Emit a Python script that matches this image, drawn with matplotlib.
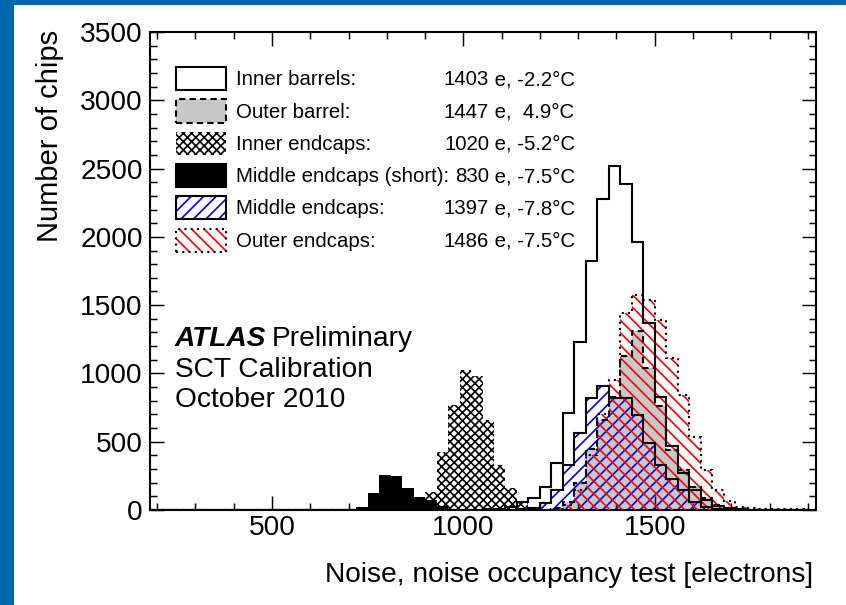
import matplotlib
matplotlib.use("Agg")
import matplotlib.pyplot as plt
from matplotlib.patches import Rectangle
from matplotlib.ticker import MultipleLocator
import numpy as np

plt.rcParams['font.family'] = ['Liberation Sans', 'DejaVu Sans']
plt.rcParams['hatch.linewidth'] = 0.8

# histogram binning: 30 electron bins
x_min, x_max, bin_width = 180, 1920, 30
edges = np.arange(x_min, x_max + 1, bin_width)

# bin contents (number of chips), each list starts at the given noise value
inner_barrels_start = 1050
inner_barrels = [5, 10, 25, 55, 90, 170, 342, 709, 1230, 1820, 2275, 2520,
                 2385, 1960, 1370, 830, 470, 270, 147, 73, 30, 12, 5]
outer_barrel_start = 1230
outer_barrel = [15, 60, 200, 450, 660, 830, 1130, 1308, 1040, 758, 440, 290,
                170, 90, 35, 12, 5]
inner_endcaps_start = 840
inner_endcaps = [5, 20, 134, 427, 769, 1025, 981, 659, 330, 159, 53, 15, 5]
middle_short_start = 630
middle_short = [3, 5, 10, 24, 122, 256, 249, 159, 93, 70, 30, 10]
middle_endcaps_start = 1140
middle_endcaps = [5, 15, 50, 150, 330, 563, 819, 905, 819, 819, 697, 489, 330,
                  227, 147, 62, 20, 8]
outer_endcaps_start = 1230
outer_endcaps = [10, 40, 150, 400, 700, 952, 1443, 1577, 1541, 1394, 1113, 844,
                 538, 293, 147, 66, 22, 15, 10, 8, 5, 5, 3]

legend_names = ['Inner barrels:', 'Outer barrel:', 'Inner endcaps:',
                'Middle endcaps (short):', 'Middle endcaps:', 'Outer endcaps:']
legend_means = ['1403', '1447', '1020', '830', '1397', '1486']
legend_temps = ['-2.2', ' 4.9', '-5.2', '-7.5', '-7.8', '-7.5']

HATCH_BLUE = '////'
HATCH_RED = '\\\\\\\\'
HATCH_CROSS = 'xxxxxx'


def full(start, counts):
    h = np.zeros(len(edges) - 1)
    i = (start - x_min) // bin_width
    h[i:i + len(counts)] = counts
    return h


fig = plt.figure(figsize=(846 / 150, 605 / 150), dpi=150)
ax = fig.add_axes([149.5 / 846, 1 - 510 / 605, 666 / 846, 478 / 605])

# blue frame of the slide
fig.patches.append(Rectangle((0, 0), 13 / 846, 1, transform=fig.transFigure,
                             color='#0066b0', zorder=0))
fig.patches.append(Rectangle((0, 1 - 4 / 605), 1, 4 / 605, transform=fig.transFigure,
                             color='#0066b0', zorder=0))

lw = 1.0
# outer barrel: grey, dashed outline
ob = full(outer_barrel_start, outer_barrel)
ax.stairs(ob, edges, fill=True, facecolor='#c8c8c8', linewidth=0, zorder=1)
ax.stairs(ob, edges, color='black', lw=lw, linestyle=(0, (3, 2)), zorder=5)

# middle endcaps: blue hatch, solid outline
me = full(middle_endcaps_start, middle_endcaps)
ax.stairs(me, edges, fill=True, facecolor='none', edgecolor='blue', hatch=HATCH_BLUE,
          linewidth=0, zorder=2)
ax.stairs(me, edges, color='black', lw=lw, zorder=5)

# outer endcaps: red hatch, dotted outline
oe = full(outer_endcaps_start, outer_endcaps)
ax.stairs(oe, edges, fill=True, facecolor='none', edgecolor='red', hatch=HATCH_RED,
          linewidth=0, zorder=3)
ax.stairs(oe, edges, color='black', lw=lw, linestyle=(0, (1, 2)), zorder=5)

# inner endcaps: black crosshatch
ie = full(inner_endcaps_start, inner_endcaps)
ax.stairs(ie, edges, fill=True, facecolor='white', edgecolor='black',
          hatch=HATCH_CROSS, linewidth=0, zorder=3)

# middle endcaps (short): solid black
ms = full(middle_short_start, middle_short)
ax.stairs(ms, edges, fill=True, facecolor='black', linewidth=0, zorder=3)

# inner barrels: open outline
ib = full(inner_barrels_start, inner_barrels)
ax.stairs(ib, edges, color='black', lw=lw, zorder=6)

ax.set_xlim(x_min, x_max)
ax.set_ylim(0, 3500)
ax.xaxis.set_major_locator(MultipleLocator(500))
ax.xaxis.set_minor_locator(MultipleLocator(100))
ax.yaxis.set_major_locator(MultipleLocator(500))
ax.yaxis.set_minor_locator(MultipleLocator(100))
ax.tick_params(which='both', direction='in', top=True, right=True,
               width=0.7, labelsize=13.5)
ax.tick_params(axis='x', which='major', length=6.7, pad=2.4)
ax.tick_params(axis='x', which='minor', length=3.4)
ax.tick_params(axis='y', which='major', length=6.5, pad=3.2)
ax.tick_params(axis='y', which='minor', length=3.4)
for s in ax.spines.values():
    s.set_linewidth(1.0)

ax.set_xlabel('Noise, noise occupancy test [electrons]', fontsize=13.5, loc='right')
ax.xaxis.set_label_coords(0.996, -0.1088)
ax.set_ylabel('Number of chips', fontsize=14, loc='top')
ax.yaxis.set_label_coords(-0.1284, 1.004)


def ax_x(px):
    return (px - 149.5) / 666


def ax_y(py):
    return (510 - py) / 478


# ATLAS label
ax.text(ax_x(175), ax_y(346), 'ATLAS', transform=ax.transAxes, fontsize=13.5,
        fontweight='bold', fontstyle='italic', va='baseline')
ax.text(ax_x(271.7), ax_y(346), 'Preliminary', transform=ax.transAxes,
        fontsize=13.5, va='baseline')
ax.text(ax_x(175), ax_y(377), 'SCT Calibration', transform=ax.transAxes,
        fontsize=13.5, va='baseline')
ax.text(ax_x(175), ax_y(407), 'October 2010', transform=ax.transAxes,
        fontsize=13.5, va='baseline')

# legend drawn by hand (two text columns)
box_styles = [
    dict(facecolor='white', edgecolor='black', linewidth=1.0),
    dict(facecolor='#c8c8c8', edgecolor='black', linewidth=1.0, linestyle=(0, (3, 2))),
    dict(facecolor='white', edgecolor='black', linewidth=0, hatch=HATCH_CROSS),
    dict(facecolor='black', edgecolor='black', linewidth=1.0),
    dict(facecolor='white', edgecolor='blue', linewidth=0, hatch=HATCH_BLUE),
    dict(facecolor='white', edgecolor='red', linewidth=0, hatch=HATCH_RED),
]
box_outlines = [None, None, None, None, dict(edgecolor='black', linestyle='-'),
                dict(edgecolor='black', linestyle=(0, (1, 2)))]
row0, row_step = 78.7, 32.3
for i, name in enumerate(legend_names):
    yc = row0 + i * row_step
    r = Rectangle((ax_x(176), ax_y(yc + 11.5)), 50 / 666, 23 / 478,
                  transform=ax.transAxes, clip_on=False, zorder=7, **box_styles[i])
    ax.add_patch(r)
    if box_outlines[i] is not None:
        ax.add_patch(Rectangle((ax_x(176), ax_y(yc + 11.5)), 50 / 666, 23 / 478,
                               transform=ax.transAxes, clip_on=False, zorder=8,
                               facecolor='none', linewidth=1.0, **box_outlines[i]))
    ax.text(ax_x(236), ax_y(yc + 6.5), name, transform=ax.transAxes,
            fontsize=9.8, va='baseline', ha='left')
    ax.text(ax_x(489), ax_y(yc + 6.5), legend_means[i], transform=ax.transAxes,
            fontsize=9.8, va='baseline', ha='right')
    ax.text(ax_x(489), ax_y(yc + 6.5), ' e, ' + legend_temps[i] + '°C',
            transform=ax.transAxes, fontsize=9.8, va='baseline', ha='left')

fig.savefig('out.png', dpi=150)
